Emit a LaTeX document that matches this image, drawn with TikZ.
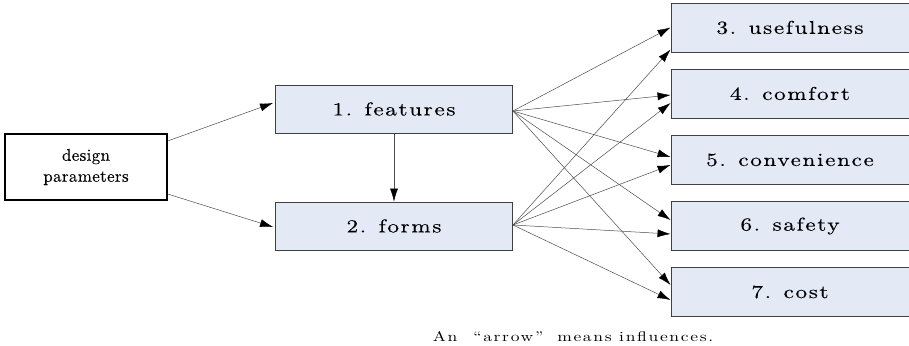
\documentclass[tikz,border=0pt]{standalone}
\usepackage{fontspec}
\newfontfamily\boxfont[FakeStretch=1.25,LetterSpace=9,FakeBold=0.3]{lmroman10-regular.otf}
\newfontfamily\dpfont[LetterSpace=2,FakeBold=0.2]{lmroman10-regular.otf}
\newfontfamily\capfont[FakeStretch=1.25,LetterSpace=12]{lmroman10-regular.otf}
\usetikzlibrary{arrows.meta,calc}
\definecolor{boxfill}{RGB}{227,234,246}
\begin{document}
\begin{tikzpicture}[x=1pt,y=-1pt,
  box/.style={draw=black!75, line width=0.9pt, fill=boxfill, minimum width=237pt, minimum height=48pt, inner sep=0pt,
    font=\boxfont\fontsize{18.5}{22}\selectfont},
  rbox/.style={box, minimum width=238pt, minimum height=49pt},
  conn/.style={draw=gray!60!black, line width=0.5pt, -{Latex[length=13pt,width=8pt,color=black,fill=black]}}]
\useasboundingbox (0,0) rectangle (909,345);
\node[draw=black, line width=1.3pt, fill=white, minimum width=162pt, minimum height=66pt, align=center, inner sep=0pt,
  font=\dpfont\fontsize{17}{21}\selectfont] (d) at (86,167) {design\\parameters};
\node[box] (f) at (394,109) {1. features};
\node[box] (m) at (394,226) {2. forms};
\node[rbox] (u) at (790,27.5) {3. usefulness};
\node[rbox] (c) at (790,93.5) {4. comfort};
\node[rbox] (v) at (790,160) {5. convenience};
\node[rbox] (s) at (790,226) {6. safety};
\node[rbox] (k) at (790,292) {7. cost};
\node[font=\capfont\fontsize{14}{16}\selectfont] (cap) at (573,337) {An\hspace{16pt}“arrow”\hspace{14pt}means influences.};
\draw[conn] ($(d.east)+(0,-26)$) -- ($(f.west)+(-2,-6)$);
\draw[conn] ($(d.east)+(0,27)$) -- ($(m.west)+(-2,1)$);
\draw[conn] (f.south) -- (m.north);
\draw[conn] ($(f.east)+(0,2)$) -- ($(u.west)+(0,0)$);
\draw[conn] ($(f.east)+(0,2)$) -- ($(c.west)+(0,1.5)$);
\draw[conn] ($(f.east)+(0,2)$) -- ($(v.west)+(0,-3)$);
\draw[conn] ($(f.east)+(0,2)$) -- ($(s.west)+(0,-6)$);
\draw[conn] ($(f.east)+(0,2)$) -- ($(k.west)+(0,-7)$);
\draw[conn] ($(m.east)+(0,-1)$) -- ($(u.west)+(0,22)$);
\draw[conn] ($(m.east)+(0,-1)$) -- ($(c.west)+(0,9.5)$);
\draw[conn] ($(m.east)+(0,-1)$) -- ($(v.west)+(0,5)$);
\draw[conn] ($(m.east)+(0,-1)$) -- ($(s.west)+(0,8)$);
\draw[conn] ($(m.east)+(0,-1)$) -- ($(k.west)+(0,8)$);
\end{tikzpicture}
\end{document}
